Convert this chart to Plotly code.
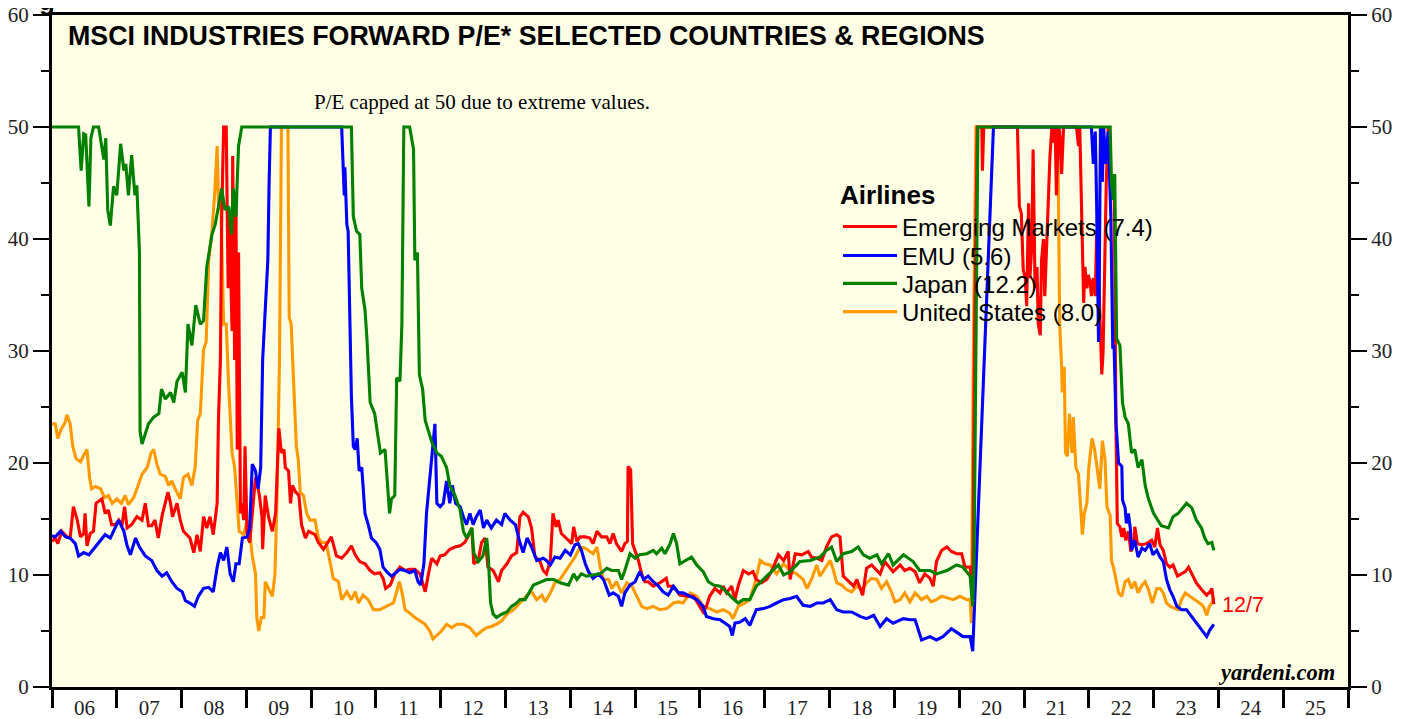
import datetime as dt
import plotly.graph_objects as go

# ---------------- data (decimal year, forward P/E; capped at 50) ----------------
em_t = [2006.0, 2006.05, 2006.09, 2006.15, 2006.23, 2006.28, 2006.33, 2006.39, 2006.44, 2006.49, 2006.51, 2006.54,
        2006.59, 2006.64, 2006.68, 2006.72, 2006.77, 2006.82, 2006.87, 2006.92, 2006.98, 2007.03, 2007.08, 2007.12,
        2007.16, 2007.23, 2007.31, 2007.39, 2007.44, 2007.49, 2007.54, 2007.59, 2007.64, 2007.70, 2007.75, 2007.79,
        2007.83, 2007.86, 2007.93, 2007.98, 2008.03, 2008.08, 2008.13, 2008.19, 2008.24, 2008.29, 2008.34, 2008.39,
        2008.44, 2008.49, 2008.55, 2008.57, 2008.60, 2008.62, 2008.65, 2008.69, 2008.72, 2008.74, 2008.78, 2008.79,
        2008.82, 2008.84, 2008.86, 2008.88, 2008.91, 2008.93, 2008.96, 2008.98, 2009.01, 2009.05, 2009.09, 2009.14,
        2009.16, 2009.20, 2009.24, 2009.25, 2009.29, 2009.34, 2009.40, 2009.45, 2009.50, 2009.54, 2009.58, 2009.60,
        2009.65, 2009.68, 2009.71, 2009.76, 2009.81, 2009.85, 2009.91, 2009.96, 2010.06, 2010.11, 2010.19, 2010.26,
        2010.31, 2010.39, 2010.47, 2010.55, 2010.62, 2010.68, 2010.75, 2010.83, 2010.91, 2010.98, 2011.06, 2011.11,
        2011.15, 2011.22, 2011.29, 2011.37, 2011.45, 2011.52, 2011.60, 2011.68, 2011.76, 2011.81, 2011.86, 2011.94,
        2011.99, 2012.06, 2012.14, 2012.22, 2012.30, 2012.37, 2012.42, 2012.48, 2012.51, 2012.58, 2012.63, 2012.68,
        2012.73, 2012.81, 2012.89, 2012.94, 2013.02, 2013.09, 2013.17, 2013.22, 2013.27, 2013.35, 2013.40, 2013.45,
        2013.53, 2013.58, 2013.63, 2013.69, 2013.73, 2013.78, 2013.81, 2013.86, 2013.92, 2013.97, 2014.02, 2014.05,
        2014.10, 2014.15, 2014.23, 2014.30, 2014.35, 2014.41, 2014.48, 2014.56, 2014.61, 2014.66, 2014.71, 2014.79,
        2014.84, 2014.88, 2014.89, 2014.93, 2014.96, 2015.0, 2015.05, 2015.10, 2015.15, 2015.20, 2015.28, 2015.38,
        2015.48, 2015.51, 2015.59, 2015.69, 2015.80, 2015.90, 2015.97, 2016.05, 2016.10, 2016.15, 2016.23, 2016.31,
        2016.36, 2016.41, 2016.49, 2016.54, 2016.59, 2016.67, 2016.75, 2016.82, 2016.87, 2016.95, 2017.03, 2017.11,
        2017.21, 2017.29, 2017.36, 2017.39, 2017.47, 2017.57, 2017.67, 2017.72, 2017.80, 2017.88, 2017.95, 2018.03,
        2018.11, 2018.16, 2018.21, 2018.29, 2018.37, 2018.42, 2018.47, 2018.51, 2018.57, 2018.65, 2018.73, 2018.78,
        2018.85, 2018.93, 2018.98, 2019.09, 2019.16, 2019.24, 2019.32, 2019.39, 2019.47, 2019.55, 2019.60, 2019.65,
        2019.73, 2019.81, 2019.88, 2019.96, 2020.04, 2020.09, 2020.17, 2020.21, 2020.24, 2020.28, 2020.35, 2020.36,
        2020.38, 2020.90, 2020.93, 2020.96, 2020.99, 2021.02, 2021.04, 2021.07, 2021.09, 2021.12, 2021.14, 2021.17,
        2021.20, 2021.22, 2021.25, 2021.27, 2021.30, 2021.32, 2021.35, 2021.38, 2021.40, 2021.43, 2021.45, 2021.48,
        2021.50, 2021.53, 2021.55, 2021.58, 2021.61, 2021.81, 2021.84, 2021.86, 2021.89, 2021.92, 2021.94, 2021.97,
        2021.99, 2022.02, 2022.04, 2022.07, 2022.10, 2022.12, 2022.15, 2022.17, 2022.20, 2022.22, 2022.25, 2022.27,
        2022.30, 2022.35, 2022.39, 2022.40, 2022.42, 2022.44, 2022.48, 2022.51, 2022.54, 2022.57, 2022.61, 2022.65,
        2022.69, 2022.71, 2022.75, 2022.82, 2022.89, 2022.97, 2023.02, 2023.06, 2023.10, 2023.15, 2023.20, 2023.25,
        2023.30, 2023.37, 2023.43, 2023.49, 2023.54, 2023.59, 2023.66, 2023.74, 2023.82, 2023.87, 2023.90, 2023.93]
em_v = [13.0, 13.3, 12.8, 13.9, 13.4, 13.3, 16.1, 14.9, 13.4, 13.7, 15.5, 12.6,
        13.7, 13.9, 16.4, 16.6, 16.8, 15.5, 15.8, 14.5, 14.5, 14.9, 14.4, 16.1,
        14.2, 14.5, 15.2, 14.9, 16.4, 14.4, 14.4, 14.9, 13.3, 15.3, 16.4, 17.4,
        16.4, 15.2, 16.4, 14.9, 13.9, 13.6, 13.3, 12.0, 13.6, 12.1, 15.2, 14.2,
        15.2, 13.6, 16.4, 23.8, 29.2, 41.9, 50.0, 50.0, 35.6, 41.9, 31.8, 47.4,
        29.2, 43.5, 21.2, 38.8, 15.5, 16.4, 14.9, 21.5, 13.6, 12.9, 15.2, 18.7,
        18.4, 17.1, 15.2, 12.3, 17.1, 15.2, 13.9, 15.5, 23.1, 20.9, 21.2, 19.6,
        19.3, 16.4, 18.0, 17.4, 17.1, 14.5, 13.3, 13.9, 13.6, 12.9, 12.3, 12.9,
        13.4, 11.7, 11.5, 12.0, 12.6, 11.8, 11.2, 11.0, 10.4, 10.1, 10.2, 9.7,
        8.8, 9.1, 10.1, 10.7, 10.4, 10.5, 10.5, 10.1, 8.5, 10.1, 11.5, 11.0,
        11.7, 11.8, 12.3, 12.5, 12.6, 12.9, 13.4, 14.2, 11.0, 11.3, 12.9, 13.3,
        10.7, 10.4, 9.4, 10.4, 11.0, 11.7, 12.0, 15.2, 15.6, 15.2, 14.2, 11.7,
        11.2, 10.4, 10.1, 11.3, 15.5, 14.3, 14.9, 13.7, 13.4, 13.1, 12.8, 14.3,
        13.0, 13.4, 13.4, 13.3, 12.8, 13.9, 13.4, 13.4, 12.8, 13.7, 12.8, 12.1,
        12.8, 13.0, 19.7, 19.4, 12.8, 12.2, 11.3, 10.1, 9.4, 9.4, 9.0, 9.3,
        9.7, 9.0, 9.0, 8.2, 8.1, 8.1, 7.5, 6.7, 7.2, 8.1, 8.8, 8.4,
        9.0, 8.4, 9.0, 7.8, 9.0, 10.4, 10.1, 10.3, 9.6, 9.3, 9.6, 10.4,
        11.8, 11.3, 12.1, 9.6, 11.9, 11.8, 12.1, 11.6, 11.5, 11.3, 12.5, 13.4,
        13.6, 13.4, 9.9, 9.4, 9.0, 9.6, 8.7, 8.2, 10.6, 10.9, 10.4, 10.1,
        11.2, 10.6, 10.3, 10.9, 10.4, 10.6, 10.3, 9.3, 10.1, 9.7, 9.0, 11.2,
        12.2, 12.5, 12.1, 11.9, 11.9, 10.7, 10.7, 8.6, 32.4, 50.0, 50.0, 46.1,
        50.0, 50.0, 42.9, 42.3, 37.2, 36.5, 34.0, 43.2, 36.5, 39.4, 48.0, 35.6,
        37.5, 32.4, 31.4, 38.1, 40.0, 34.9, 39.4, 42.9, 47.4, 50.0, 48.6, 50.0,
        43.9, 50.0, 49.6, 45.8, 50.0, 50.0, 48.3, 50.0, 42.0, 34.3, 37.5, 35.6,
        36.8, 36.2, 34.9, 36.5, 34.9, 40.4, 37.2, 32.4, 27.9, 29.8, 38.8, 45.1,
        50.0, 43.5, 45.8, 37.2, 22.8, 14.6, 14.3, 13.4, 14.2, 13.1, 13.9, 12.1,
        12.8, 14.3, 12.8, 12.7, 12.8, 13.1, 12.5, 14.2, 12.7, 12.2, 11.0, 10.7,
        10.9, 9.9, 10.1, 10.3, 10.7, 10.1, 9.3, 8.7, 8.2, 8.5, 8.8, 7.4]

emu_t = [2006.0, 2006.05, 2006.13, 2006.21, 2006.28, 2006.36, 2006.41, 2006.49, 2006.57, 2006.64, 2006.72, 2006.82,
         2006.90, 2006.98, 2007.03, 2007.11, 2007.16, 2007.21, 2007.29, 2007.35, 2007.44, 2007.54, 2007.62, 2007.70,
         2007.77, 2007.85, 2007.93, 2008.01, 2008.06, 2008.13, 2008.20, 2008.26, 2008.34, 2008.42, 2008.49, 2008.55,
         2008.60, 2008.65, 2008.70, 2008.75, 2008.80, 2008.84, 2008.89, 2008.94, 2009.01, 2009.05, 2009.09, 2009.14,
         2009.18, 2009.22, 2009.25, 2009.29, 2009.33, 2009.35, 2009.37, 2010.47, 2010.49, 2010.51, 2010.52, 2010.55,
         2010.57, 2010.60, 2010.62, 2010.65, 2010.68, 2010.71, 2010.74, 2010.78, 2010.83, 2010.88, 2010.93, 2011.0,
         2011.06, 2011.11, 2011.18, 2011.24, 2011.29, 2011.37, 2011.45, 2011.52, 2011.60, 2011.65, 2011.69, 2011.74,
         2011.78, 2011.83, 2011.87, 2011.91, 2011.94, 2011.99, 2012.04, 2012.09, 2012.14, 2012.18, 2012.23, 2012.30,
         2012.35, 2012.40, 2012.45, 2012.50, 2012.55, 2012.61, 2012.66, 2012.71, 2012.78, 2012.86, 2012.94, 2012.99,
         2013.07, 2013.15, 2013.22, 2013.27, 2013.33, 2013.40, 2013.48, 2013.58, 2013.63, 2013.69, 2013.76, 2013.84,
         2013.92, 2014.0, 2014.07, 2014.12, 2014.17, 2014.23, 2014.28, 2014.35, 2014.43, 2014.51, 2014.60, 2014.66,
         2014.74, 2014.79, 2014.84, 2014.92, 2015.0, 2015.07, 2015.13, 2015.20, 2015.28, 2015.36, 2015.43, 2015.51,
         2015.59, 2015.67, 2015.74, 2015.85, 2015.95, 2016.05, 2016.10, 2016.21, 2016.31, 2016.39, 2016.46, 2016.50,
         2016.54, 2016.62, 2016.70, 2016.77, 2016.87, 2016.98, 2017.08, 2017.18, 2017.29, 2017.39, 2017.49, 2017.59,
         2017.70, 2017.80, 2017.90, 2018.01, 2018.11, 2018.21, 2018.34, 2018.47, 2018.57, 2018.68, 2018.78, 2018.88,
         2018.98, 2019.14, 2019.24, 2019.32, 2019.42, 2019.55, 2019.65, 2019.75, 2019.88, 2019.96, 2020.06, 2020.17,
         2020.21, 2020.53, 2022.04, 2022.07, 2022.10, 2022.12, 2022.15, 2022.16, 2022.18, 2022.21, 2022.23, 2022.26,
         2022.30, 2022.34, 2022.37, 2022.39, 2022.42, 2022.46, 2022.51, 2022.52, 2022.56, 2022.58, 2022.61, 2022.64,
         2022.66, 2022.71, 2022.76, 2022.82, 2022.87, 2022.94, 2022.99, 2023.05, 2023.10, 2023.15, 2023.20, 2023.25,
         2023.30, 2023.36, 2023.43, 2023.51, 2023.59, 2023.66, 2023.74, 2023.82, 2023.87, 2023.93]
emu_v = [13.5, 13.4, 13.9, 13.4, 13.3, 12.8, 11.7, 12.0, 11.8, 12.3, 12.8, 13.6,
         13.3, 14.2, 14.9, 13.9, 12.6, 11.8, 13.3, 12.5, 11.7, 11.3, 10.4, 9.9,
         10.2, 9.4, 8.8, 8.5, 7.7, 7.5, 7.2, 8.1, 8.8, 8.9, 8.5, 10.7,
         12.0, 11.3, 12.5, 10.1, 9.4, 11.0, 11.0, 13.3, 13.4, 14.2, 19.9, 19.3,
         17.7, 19.6, 29.2, 33.7, 38.1, 45.1, 50.0, 50.0, 46.4, 43.9, 46.4, 41.3,
         40.7, 30.5, 26.0, 21.5, 21.2, 22.2, 19.3, 19.6, 15.5, 14.5, 13.3, 12.9,
         12.3, 10.7, 10.2, 9.9, 10.1, 10.5, 10.4, 10.2, 10.4, 9.4, 9.1, 11.0,
         15.5, 18.4, 21.2, 23.5, 16.4, 16.1, 16.4, 18.4, 16.4, 18.0, 16.4, 16.1,
         15.2, 14.5, 15.5, 14.5, 15.2, 15.8, 14.2, 14.9, 14.2, 14.9, 14.5, 15.5,
         14.9, 14.5, 12.9, 12.0, 13.3, 12.5, 11.3, 11.5, 11.3, 10.9, 11.6, 11.5,
         12.2, 11.8, 12.7, 12.8, 12.2, 11.0, 10.3, 9.7, 10.1, 9.6, 8.2, 8.4,
         8.1, 7.2, 8.4, 9.1, 9.4, 10.3, 9.6, 9.9, 9.4, 9.0, 8.5, 8.2,
         9.0, 8.4, 8.4, 8.1, 7.8, 7.2, 6.3, 6.1, 6.0, 5.7, 5.4, 4.6,
         5.7, 5.8, 6.1, 5.5, 6.9, 7.0, 7.2, 7.5, 7.8, 7.9, 8.1, 7.3,
         7.2, 7.5, 7.5, 7.8, 6.9, 6.7, 6.7, 6.3, 6.1, 6.4, 5.4, 6.1,
         5.7, 6.1, 6.0, 6.0, 4.2, 4.5, 4.2, 4.5, 5.2, 4.9, 4.5, 4.5,
         3.2, 50.0, 50.0, 46.7, 49.6, 43.5, 30.8, 34.9, 50.0, 45.1, 50.0, 46.7,
         49.6, 42.0, 30.2, 30.5, 23.5, 20.0, 19.7, 16.7, 16.0, 14.6, 15.5, 14.2,
         12.2, 13.1, 11.6, 12.4, 12.2, 12.8, 11.8, 12.2, 11.6, 11.2, 9.6, 8.7,
         8.1, 7.2, 6.9, 6.9, 6.3, 5.7, 5.1, 4.5, 5.1, 5.6]

japan_t = [2006.0, 2006.41, 2006.45, 2006.49, 2006.52, 2006.57, 2006.60, 2006.64, 2006.72, 2006.76, 2006.80, 2006.83,
           2006.86, 2006.90, 2006.95, 2007.00, 2007.06, 2007.11, 2007.14, 2007.18, 2007.23, 2007.28, 2007.31, 2007.35,
           2007.36, 2007.39, 2007.49, 2007.57, 2007.65, 2007.69, 2007.75, 2007.83, 2007.88, 2007.93, 2008.01, 2008.06,
           2008.10, 2008.16, 2008.22, 2008.29, 2008.34, 2008.39, 2008.44, 2008.47, 2008.52, 2008.56, 2008.62, 2008.67,
           2008.73, 2008.77, 2008.80, 2008.84, 2008.88, 2008.93, 2010.62, 2010.65, 2010.70, 2010.75, 2010.78, 2010.83,
           2010.86, 2010.91, 2010.98, 2011.02, 2011.07, 2011.14, 2011.18, 2011.21, 2011.24, 2011.29, 2011.32, 2011.37,
           2011.40, 2011.43, 2011.52, 2011.58, 2011.60, 2011.64, 2011.67, 2011.72, 2011.76, 2011.81, 2011.86, 2011.94,
           2012.01, 2012.09, 2012.14, 2012.22, 2012.30, 2012.35, 2012.40, 2012.48, 2012.51, 2012.58, 2012.65, 2012.71,
           2012.73, 2012.77, 2012.81, 2012.86, 2012.94, 2013.02, 2013.09, 2013.17, 2013.22, 2013.30, 2013.38, 2013.43,
           2013.51, 2013.63, 2013.74, 2013.84, 2013.97, 2014.05, 2014.10, 2014.17, 2014.25, 2014.35, 2014.46, 2014.56,
           2014.64, 2014.74, 2014.79, 2014.84, 2014.92, 2015.0, 2015.07, 2015.18, 2015.28, 2015.33, 2015.41, 2015.46,
           2015.54, 2015.59, 2015.64, 2015.69, 2015.77, 2015.87, 2015.95, 2016.05, 2016.13, 2016.21, 2016.31, 2016.41,
           2016.51, 2016.59, 2016.67, 2016.77, 2016.87, 2016.98, 2017.08, 2017.21, 2017.29, 2017.39, 2017.54, 2017.70,
           2017.85, 2017.95, 2018.03, 2018.11, 2018.21, 2018.34, 2018.44, 2018.52, 2018.62, 2018.73, 2018.80, 2018.91,
           2018.98, 2019.14, 2019.29, 2019.39, 2019.55, 2019.65, 2019.81, 2019.96, 2020.06, 2020.17, 2020.21, 2020.23,
           2020.29, 2022.33, 2022.35, 2022.38, 2022.40, 2022.43, 2022.48, 2022.52, 2022.56, 2022.61, 2022.66, 2022.71,
           2022.76, 2022.82, 2022.87, 2022.92, 2023.0, 2023.07, 2023.12, 2023.23, 2023.30, 2023.38, 2023.46, 2023.51,
           2023.59, 2023.66, 2023.74, 2023.79, 2023.84, 2023.90, 2023.93]
japan_v = [50.0, 50.0, 46.1, 49.4, 49.3, 42.9, 49.0, 50.0, 50.0, 48.3, 47.1, 49.0,
           42.6, 41.2, 44.7, 43.9, 48.5, 46.1, 46.7, 43.9, 47.5, 43.9, 44.8, 38.8,
           22.8, 21.7, 23.5, 24.1, 24.4, 26.6, 25.7, 26.3, 25.4, 27.3, 28.1, 26.3,
           32.4, 30.5, 34.1, 32.4, 32.7, 37.5, 39.1, 40.4, 41.3, 42.6, 44.5, 42.6,
           42.9, 40.4, 44.5, 42.0, 48.3, 50.0, 50.0, 42.0, 40.7, 40.4, 35.6, 33.7,
           31.1, 25.4, 24.4, 22.8, 20.9, 21.2, 18.0, 15.5, 16.8, 17.1, 27.6, 27.3,
           32.4, 50.0, 50.0, 48.0, 38.1, 38.8, 27.9, 26.6, 23.8, 22.8, 21.9, 20.9,
           20.6, 19.6, 18.0, 17.1, 15.8, 13.9, 13.3, 14.2, 12.0, 11.2, 11.7, 13.3,
           12.0, 7.5, 6.5, 6.2, 6.5, 6.7, 7.2, 7.5, 7.8, 7.8, 8.6, 9.1,
           9.3, 9.6, 9.6, 9.3, 9.1, 10.1, 9.6, 10.1, 9.9, 10.0, 10.1, 10.6,
           10.4, 10.4, 9.6, 10.4, 11.9, 11.5, 11.8, 11.9, 12.2, 11.9, 12.4, 11.9,
           12.8, 13.7, 12.8, 11.0, 11.3, 11.6, 10.9, 10.3, 9.4, 9.1, 9.0, 8.5,
           7.9, 7.5, 7.8, 7.8, 9.0, 9.6, 10.1, 10.9, 10.0, 10.3, 11.2, 11.3,
           11.6, 12.2, 12.5, 11.2, 11.9, 12.1, 12.5, 11.8, 11.5, 11.8, 11.0, 11.9,
           10.9, 11.8, 11.2, 10.4, 10.4, 10.1, 10.4, 10.9, 10.7, 9.9, 7.2, 10.7,
           50.0, 50.0, 45.1, 43.5, 45.8, 31.1, 30.5, 25.4, 24.1, 23.5, 20.9, 21.2,
           19.6, 20.3, 18.0, 16.8, 15.5, 14.9, 14.4, 14.2, 15.2, 15.5, 16.1, 16.4,
           16.0, 14.9, 14.2, 13.3, 12.8, 12.9, 12.2]

us_t = [2006.0, 2006.05, 2006.09, 2006.14, 2006.20, 2006.23, 2006.28, 2006.32, 2006.37, 2006.44, 2006.49, 2006.54,
        2006.58, 2006.61, 2006.67, 2006.75, 2006.81, 2006.87, 2006.93, 2007.0, 2007.07, 2007.13, 2007.18, 2007.26,
        2007.33, 2007.39, 2007.47, 2007.53, 2007.57, 2007.62, 2007.67, 2007.75, 2007.80, 2007.85, 2007.90, 2007.98,
        2008.03, 2008.10, 2008.16, 2008.21, 2008.25, 2008.29, 2008.34, 2008.38, 2008.42, 2008.47, 2008.51, 2008.55,
        2008.57, 2008.61, 2008.65, 2008.69, 2008.73, 2008.78, 2008.82, 2008.86, 2008.89, 2008.96, 2009.01, 2009.06,
        2009.09, 2009.14, 2009.16, 2009.19, 2009.23, 2009.27, 2009.29, 2009.34, 2009.40, 2009.44, 2009.47, 2009.51,
        2009.54, 2009.64, 2009.66, 2009.69, 2009.73, 2009.77, 2009.80, 2009.83, 2009.88, 2009.93, 2009.98, 2010.06,
        2010.11, 2010.16, 2010.23, 2010.29, 2010.34, 2010.42, 2010.47, 2010.55, 2010.62, 2010.68, 2010.73, 2010.80,
        2010.88, 2010.96, 2011.06, 2011.16, 2011.27, 2011.32, 2011.36, 2011.40, 2011.45, 2011.52, 2011.60, 2011.68,
        2011.76, 2011.83, 2011.88, 2011.94, 2012.01, 2012.09, 2012.17, 2012.25, 2012.35, 2012.45, 2012.55, 2012.63,
        2012.71, 2012.78, 2012.86, 2012.94, 2013.02, 2013.12, 2013.22, 2013.33, 2013.40, 2013.48, 2013.56, 2013.61,
        2013.69, 2013.76, 2013.84, 2013.92, 2014.0, 2014.07, 2014.15, 2014.23, 2014.30, 2014.35, 2014.41, 2014.46,
        2014.51, 2014.59, 2014.64, 2014.71, 2014.79, 2014.87, 2014.95, 2015.02, 2015.10, 2015.18, 2015.28, 2015.38,
        2015.49, 2015.59, 2015.67, 2015.74, 2015.85, 2015.95, 2016.05, 2016.15, 2016.26, 2016.36, 2016.46, 2016.51,
        2016.59, 2016.70, 2016.77, 2016.85, 2016.93, 2017.0, 2017.08, 2017.18, 2017.29, 2017.39, 2017.49, 2017.59,
        2017.65, 2017.72, 2017.80, 2017.85, 2017.93, 2018.01, 2018.06, 2018.11, 2018.19, 2018.26, 2018.34, 2018.42,
        2018.50, 2018.57, 2018.65, 2018.73, 2018.80, 2018.88, 2018.96, 2019.01, 2019.09, 2019.16, 2019.24, 2019.32,
        2019.42, 2019.50, 2019.57, 2019.65, 2019.73, 2019.83, 2019.91, 2020.01, 2020.12, 2020.17, 2020.19, 2020.22,
        2020.26, 2021.52, 2021.55, 2021.58, 2021.59, 2021.62, 2021.64, 2021.67, 2021.70, 2021.74, 2021.76, 2021.80,
        2021.84, 2021.87, 2021.90, 2021.93, 2021.97, 2022.0, 2022.05, 2022.09, 2022.15, 2022.17, 2022.21, 2022.25,
        2022.28, 2022.33, 2022.35, 2022.38, 2022.42, 2022.46, 2022.51, 2022.56, 2022.61, 2022.66, 2022.71, 2022.76,
        2022.82, 2022.87, 2022.92, 2022.98, 2023.05, 2023.10, 2023.15, 2023.20, 2023.26, 2023.33, 2023.38, 2023.43,
        2023.49, 2023.56, 2023.64, 2023.71, 2023.77, 2023.82, 2023.86, 2023.90, 2023.93]
us_v = [23.5, 23.5, 22.2, 23.0, 23.6, 24.3, 23.5, 21.5, 20.4, 20.1, 20.7, 21.2,
        18.7, 17.7, 17.9, 17.7, 16.9, 17.1, 16.4, 16.8, 16.4, 17.1, 16.3, 16.9,
        18.0, 19.0, 19.6, 20.9, 21.2, 19.9, 19.0, 18.8, 18.0, 18.4, 17.7, 16.8,
        18.7, 19.0, 18.0, 19.6, 23.8, 24.4, 30.1, 30.8, 38.1, 40.7, 43.9, 48.3,
        43.2, 42.6, 32.4, 32.4, 26.6, 20.9, 19.6, 16.4, 13.9, 13.6, 14.9, 13.3,
        11.7, 10.1, 6.2, 5.0, 6.2, 6.2, 9.4, 8.8, 8.1, 10.1, 16.4, 29.2,
        50.0, 50.0, 33.0, 32.4, 26.0, 21.5, 20.3, 17.4, 17.1, 15.5, 14.9, 14.9,
        13.3, 12.9, 12.9, 11.3, 9.7, 9.4, 7.8, 8.5, 7.8, 8.5, 7.5, 8.2,
        7.8, 6.9, 6.9, 7.2, 7.5, 8.5, 9.4, 8.5, 6.9, 6.6, 6.2, 5.9,
        5.6, 5.0, 4.3, 4.6, 5.0, 5.6, 5.3, 5.6, 5.6, 5.3, 4.6, 5.0,
        5.3, 5.4, 5.6, 5.9, 6.5, 6.9, 7.5, 8.2, 8.5, 7.8, 8.2, 7.6,
        8.4, 9.3, 9.6, 10.3, 11.0, 11.6, 12.5, 12.4, 12.1, 11.9, 12.5, 10.7,
        9.6, 9.6, 8.8, 9.4, 8.4, 9.3, 9.0, 8.1, 7.2, 7.0, 7.2, 6.9,
        7.0, 7.5, 7.6, 7.5, 8.4, 8.1, 7.2, 7.0, 6.7, 6.9, 6.6, 6.1,
        7.2, 7.5, 7.8, 9.3, 11.3, 11.0, 10.9, 10.1, 11.0, 10.4, 10.1, 9.6,
        8.8, 9.6, 10.9, 9.9, 10.6, 11.3, 10.4, 9.3, 9.1, 8.7, 8.5, 9.0,
        8.7, 9.3, 9.7, 9.6, 8.8, 9.4, 8.4, 7.6, 7.8, 8.4, 7.6, 8.4,
        7.8, 8.1, 7.6, 7.8, 8.1, 7.9, 7.8, 8.1, 7.8, 7.8, 5.7, 30.0,
        50.0, 50.0, 32.4, 28.6, 26.3, 28.6, 20.9, 20.6, 24.4, 20.9, 24.1, 19.6,
        19.0, 16.4, 13.6, 15.5, 16.4, 19.6, 22.2, 21.2, 18.4, 17.7, 22.0, 20.3,
        16.1, 15.3, 11.3, 10.7, 9.6, 8.4, 8.1, 9.4, 9.6, 8.8, 9.4, 8.4,
        9.1, 9.4, 8.7, 7.5, 8.8, 8.8, 8.4, 7.5, 7.2, 7.0, 6.9, 7.8,
        8.4, 8.1, 7.8, 7.5, 7.2, 6.4, 7.2, 7.5, 8.0]

series_names = ["Emerging Markets (7.4)", "EMU (5.6)", "Japan (12.2)", "United States (8.0)"]
series_colors = ["#FF0000", "#0000FF", "#008000", "#FF9900"]
year_range = ["2006-01-01", "2026-01-01"]
y_ticks = [0, 10, 20, 30, 40, 50, 60]


def to_date(y):
    base = int(y)
    return dt.datetime(base, 1, 1) + dt.timedelta(days=(y - base) * 365.25)


serif = "Liberation Serif"
sans = "Liberation Sans"
legend_ids = ["legend", "legend2", "legend3", "legend4"]

fig = go.Figure()
# draw order: US, EM, EMU, Japan (Japan on top)
order = [(us_t, us_v, 3, "y"), (em_t, em_v, 0, "y"), (emu_t, emu_v, 1, "y"), (japan_t, japan_v, 2, "y2")]
for t, v, i, ax in order:
    fig.add_trace(go.Scatter(
        x=[to_date(a) for a in t], y=v, mode="lines", name=series_names[i],
        line=dict(color=series_colors[i], width=3.1), yaxis=ax, legend=legend_ids[i],
    ))

axis_common = dict(range=[0, 60], tickvals=y_ticks, ticks="outside", ticklen=16, tickwidth=2,
                   tickcolor="black", showline=True, linewidth=3, linecolor="black", showgrid=False,
                   zeroline=False, automargin=False, ticklabeloverflow="allow",
                   tickfont=dict(family=serif, size=21, color="#222"),
                   minor=dict(dtick=5, tick0=0, ticks="outside", ticklen=8, tickwidth=2, tickcolor="black",
                              showgrid=False))

leg_common = dict(xanchor="left", bgcolor="rgba(0,0,0,0)", borderwidth=0, itemwidth=54,
                  font=dict(family=sans, size=24, color="black"))
leg_x = 0.6065
# legend anchor positions (fraction of plot height)
leg_y = [0.7685, 0.6415, 0.600, 0.558]

fig.update_layout(
    width=1400, height=711,
    margin=dict(l=44, r=60, t=7, b=32),
    paper_bgcolor="white", plot_bgcolor="#FFFFE5",
    showlegend=True,
    legend=dict(x=leg_x, y=leg_y[0], yanchor="top",
                title=dict(text="<b>Airlines</b>", font=dict(family=sans, size=26, color="black")),
                **leg_common),
    legend2=dict(x=leg_x, y=leg_y[1], yanchor="middle", **leg_common),
    legend3=dict(x=leg_x, y=leg_y[2], yanchor="middle", **leg_common),
    legend4=dict(x=leg_x, y=leg_y[3], yanchor="middle", **leg_common),
    xaxis=dict(type="date", range=year_range, dtick="M12", tick0="2006-01-01", tickformat="%y",
               ticklabelmode="period", ticks="outside", ticklen=18, tickwidth=2.5, tickcolor="black",
               showline=True, linewidth=3, linecolor="black", mirror=True, showgrid=False,
               automargin=False, ticklabelstandoff=-18, ticklabeloverflow="allow",
               tickfont=dict(family=serif, size=21, color="#222")),
    yaxis=dict(side="left", **axis_common),
    yaxis2=dict(side="right", overlaying="y", **axis_common),
)

fig.add_annotation(text="<b>MSCI INDUSTRIES FORWARD P/E* SELECTED COUNTRIES & REGIONS</b>",
                   xref="paper", yref="paper", x=0.0108, y=0.969, xanchor="left", yanchor="middle",
                   showarrow=False, font=dict(family=sans, size=26.8, color="black"))
fig.add_annotation(text="P/E capped at 50 due to extreme values.",
                   xref="paper", yref="paper", x=0.3318, y=0.8705, xanchor="center", yanchor="middle",
                   showarrow=False, font=dict(family=serif, size=21, color="black"))
fig.add_annotation(text="12/7", xref="paper", yref="paper", x=0.9012, y=0.122, xanchor="left",
                   yanchor="middle", showarrow=False, font=dict(family=sans, size=21.5, color="#FF0000"))
fig.add_annotation(text="<b><i>yardeni.com</i></b>", xref="paper", yref="paper", x=0.9915, y=0.0223,
                   xanchor="right", yanchor="middle", showarrow=False,
                   font=dict(family=serif, size=22.5, color="black"))
fig.add_annotation(text="<b>g</b>", xref="paper", yref="paper", x=-0.0039, y=1.021, xanchor="center",
                   yanchor="middle", showarrow=False, font=dict(family=sans, size=26, color="black"))

fig.write_html("out.html")
